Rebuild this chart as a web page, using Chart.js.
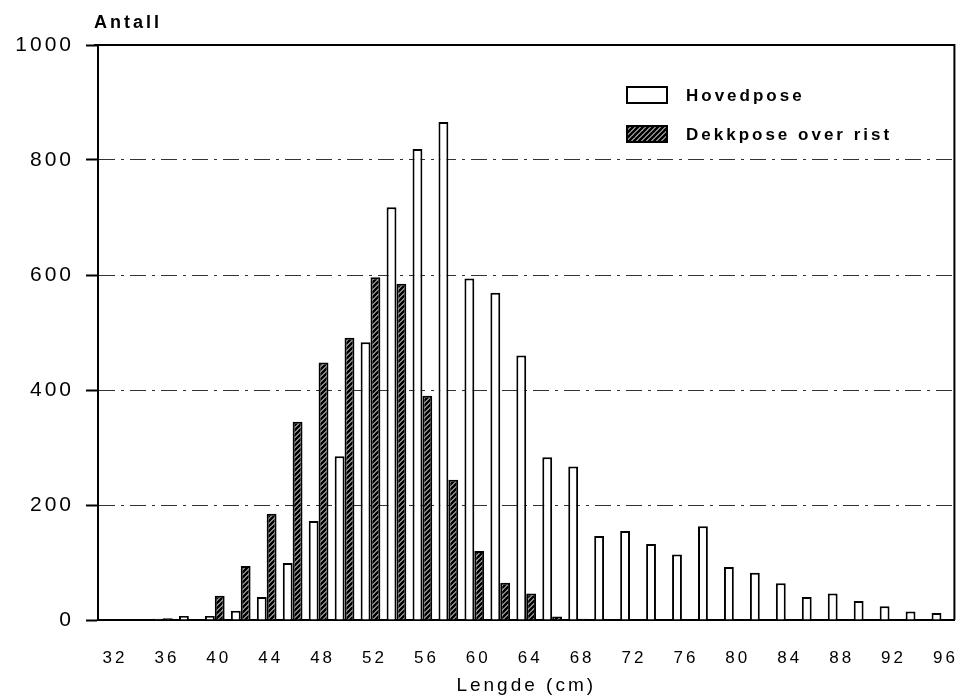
<!DOCTYPE html>
<html>
<head>
<meta charset="utf-8">
<script src="https://cdn.jsdelivr.net/npm/chart.js@4/dist/chart.umd.min.js"></script>
<style>
  html, body { margin: 0; padding: 0; background: #ffffff; }
  canvas { display: block; }
</style>
</head>
<body>
<canvas id="chart" width="974" height="697"></canvas>
<script>
// Length classes (cm), 2 cm steps
const lengths = ['32','34','36','38','40','42','44','46','48','50','52','54','56','58','60','62','64',
                 '66','68','70','72','74','76','78','80','82','84','86','88','90','92','94','96'];

// Number of fish per length class
const hovedpose = [1, 1, 2, 7, 7, 16, 40, 99, 172, 285, 483, 718, 819, 866, 594, 569, 460,
                   283, 267, 146, 155, 132, 114, 163, 92, 82, 64, 40, 46, 33, 24, 15, 12];
const dekkpose  = [0, 0, 3, 1, 42, 94, 185, 345, 448, 491, 596, 585, 390, 244, 120, 65, 46,
                   6, 2, 0, 0, 0, 0, 0, 0, 0, 0, 0, 0, 0, 0, 0, 0];

const seriesNames = ['Hovedpose', 'Dekkpose over rist'];
const yTicks = [0, 200, 400, 600, 800, 1000];

const FONT = '"Liberation Sans", Arial, sans-serif';

// Diagonal hatching for the cover-bag series
function makeHatch() {
  const s = 5;
  const c = document.createElement('canvas');
  c.width = s; c.height = s;
  const g = c.getContext('2d');
  g.fillStyle = '#ffffff';
  g.fillRect(0, 0, s, s);
  g.strokeStyle = '#000000';
  g.lineWidth = 2.8;
  g.beginPath();
  g.moveTo(0, s); g.lineTo(s, 0);
  g.moveTo(-s / 2, s / 2); g.lineTo(s / 2, -s / 2);
  g.moveTo(s / 2, s * 1.5); g.lineTo(s * 1.5, s / 2);
  g.stroke();
  return c;
}
const ctx = document.getElementById('chart').getContext('2d');
const hatch = ctx.createPattern(makeHatch(), 'repeat');

// Wide letter spacing for all canvas text
const spacing = {
  id: 'spacing',
  beforeUpdate(chart) { chart.ctx.letterSpacing = '3px'; },
  beforeDraw(chart) { chart.ctx.letterSpacing = '3px'; }
};

// Closed frame, axis caption and legend
const decorations = {
  id: 'decorations',
  afterDraw(chart) {
    const c = chart.ctx;
    const a = chart.chartArea;
    c.save();
    c.letterSpacing = '3px';
    c.strokeStyle = '#000';
    c.lineWidth = 2;
    c.setLineDash([]);
    c.beginPath();
    c.moveTo(a.left - 4, a.top);
    c.lineTo(a.right, a.top);
    c.lineTo(a.right, a.bottom);
    c.stroke();

    c.fillStyle = '#000';
    c.font = 'bold 18px ' + FONT;
    c.textAlign = 'left';
    c.textBaseline = 'middle';
    c.fillText('Antall', a.left - 4, 23);

    // legend
    const bx = 627, bw = 40, bh = 16;
    const rows = [
      { y: 95, fill: '#ffffff' },
      { y: 134, fill: hatch }
    ];
    c.font = 'bold 17px ' + FONT;
    rows.forEach((r, i) => {
      c.fillStyle = r.fill;
      c.fillRect(bx, r.y - bh / 2, bw, bh);
      c.lineWidth = 2;
      c.strokeStyle = '#000';
      c.strokeRect(bx, r.y - bh / 2, bw, bh);
      c.fillStyle = '#000';
      c.fillText(seriesNames[i], 686, r.y + 1);
    });
    c.restore();
  }
};

new Chart(ctx, {
  type: 'bar',
  data: {
    labels: lengths,
    datasets: [
      {
        label: seriesNames[0],
        data: hovedpose,
        backgroundColor: '#ffffff',
        borderColor: '#000000',
        borderWidth: 2,
        borderSkipped: 'bottom',
        barPercentage: 1,
        categoryPercentage: 0.76
      },
      {
        label: seriesNames[1],
        data: dekkpose,
        backgroundColor: hatch,
        borderColor: '#000000',
        borderWidth: 2,
        borderSkipped: 'bottom',
        barPercentage: 1,
        categoryPercentage: 0.76
      }
    ]
  },
  options: {
    responsive: false,
    animation: false,
    events: [],
    layout: { padding: { left: 0, right: 7, top: 45, bottom: 0 } },
    plugins: {
      legend: { display: false },
      tooltip: { enabled: false },
      title: { display: false }
    },
    scales: {
      x: {
        grid: { display: false },
        border: { display: true, color: '#000', width: 2 },
        ticks: {
          autoSkip: false,
          maxRotation: 0,
          minRotation: 0,
          padding: 20,
          labelOffset: 4,
          color: '#000',
          font: { family: FONT, size: 17 },
          callback: (v, i) => (i % 2 === 0 ? lengths[i] : '')
        },
        title: {
          display: true,
          text: 'Lengde (cm)',
          color: '#000',
          font: { family: FONT, size: 19 },
          padding: { top: 0, bottom: 0 }
        },
        afterFit(scale) { scale.height = 77; }
      },
      y: {
        min: 0,
        max: 1000,
        afterBuildTicks(scale) { scale.ticks = yTicks.map(v => ({ value: v })); },
        grid: {
          color: '#333',
          lineWidth: 1,
          tickBorderDash: [],
          tickColor: '#000',
          tickWidth: 2,
          tickLength: 12,
          drawTicks: true
        },
        border: { display: true, color: '#000', width: 2, dash: [16, 6, 3, 6] },
        ticks: {
          padding: 12,
          color: '#000',
          font: { family: FONT, size: 21 },
          callback: (v) => String(v)
        },
        afterFit(scale) { scale.width = 98; }
      }
    }
  },
  plugins: [spacing, decorations]
});
</script>
</body>
</html>
